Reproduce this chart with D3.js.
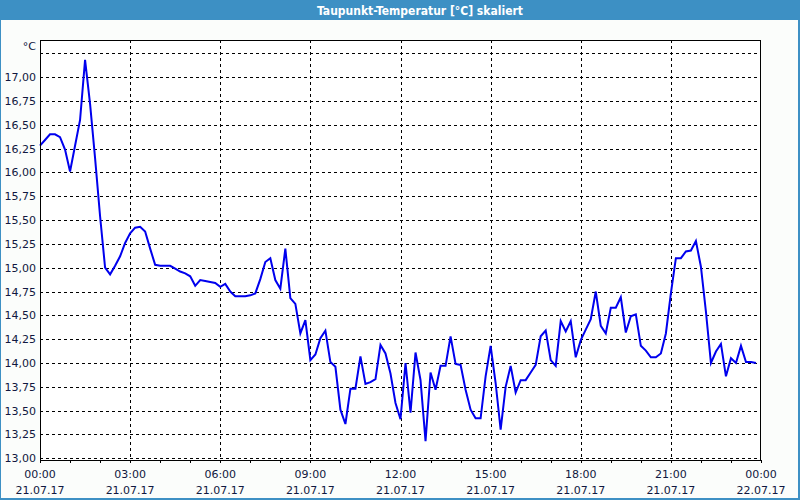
<!DOCTYPE html>
<html><head><meta charset="utf-8">
<script src="https://cdn.jsdelivr.net/npm/d3@7"></script>
<style>body{margin:0;background:#fff;}svg{display:block;}</style>
</head><body>
<svg id="chart" width="800" height="500"></svg>
<script>
const title = "Taupunkt-Temperatur [°C] skaliert";
const unitLabel = "°C";
const times = [
"00:00","00:10","00:20","00:30","00:40","00:50","01:00","01:10","01:20","01:30","01:40","01:50",
"02:00","02:10","02:20","02:30","02:40","02:50","03:00","03:10","03:20","03:30","03:40","03:50",
"04:00","04:10","04:20","04:30","04:40","04:50","05:00","05:10","05:20","05:30","05:40","05:50",
"06:00","06:10","06:20","06:30","06:40","06:50","07:00","07:10","07:20","07:30","07:40","07:50",
"08:00","08:10","08:20","08:30","08:40","08:50","09:00","09:10","09:20","09:30","09:40","09:50",
"10:00","10:10","10:20","10:30","10:40","10:50","11:00","11:10","11:20","11:30","11:40","11:50",
"12:00","12:10","12:20","12:30","12:40","12:50","13:00","13:10","13:20","13:30","13:40","13:50",
"14:00","14:10","14:20","14:30","14:40","14:50","15:00","15:10","15:20","15:30","15:40","15:50",
"16:00","16:10","16:20","16:30","16:40","16:50","17:00","17:10","17:20","17:30","17:40","17:50",
"18:00","18:10","18:20","18:30","18:40","18:50","19:00","19:10","19:20","19:30","19:40","19:50",
"20:00","20:10","20:20","20:30","20:40","20:50","21:00","21:10","21:20","21:30","21:40","21:50",
"22:00","22:10","22:20","22:30","22:40","22:50","23:00","23:10","23:20","23:30","23:40","23:50"];
const values = [
16.28,16.34,16.40,16.40,16.37,16.24,16.01,16.28,16.55,17.18,16.72,16.15,
15.54,15.00,14.93,15.02,15.12,15.26,15.36,15.42,15.43,15.38,15.20,15.03,
15.02,15.02,15.02,14.99,14.96,14.94,14.91,14.81,14.87,14.86,14.85,14.84,
14.80,14.83,14.75,14.70,14.70,14.70,14.71,14.73,14.88,15.06,15.10,14.87,
14.78,15.20,14.68,14.62,14.31,14.45,14.03,14.09,14.26,14.34,14.01,13.96,
13.51,13.36,13.73,13.73,14.07,13.78,13.80,13.83,14.19,14.10,13.89,13.58,
13.41,14.00,13.48,14.11,13.82,13.18,13.90,13.72,13.97,13.97,14.28,13.99,
13.98,13.72,13.51,13.42,13.42,13.86,14.18,13.79,13.30,13.75,13.97,13.69,
13.82,13.82,13.90,13.98,14.28,14.34,14.03,13.97,14.44,14.33,14.44,14.06,
14.24,14.35,14.46,14.75,14.39,14.31,14.58,14.58,14.69,14.32,14.49,14.51,
14.18,14.13,14.06,14.06,14.10,14.31,14.73,15.10,15.10,15.17,15.18,15.28,
15.01,14.54,14.00,14.12,14.20,13.86,14.05,14.00,14.18,14.01,14.01,14.00];
const yTicks = [13.00,13.25,13.50,13.75,14.00,14.25,14.50,14.75,15.00,15.25,15.50,15.75,16.00,16.25,16.50,16.75,17.00];
const yGridTop = 17.25;
const xTickTimes = ["00:00","03:00","06:00","09:00","12:00","15:00","18:00","21:00","00:00"];
const xTickDates = ["21.07.17","21.07.17","21.07.17","21.07.17","21.07.17","21.07.17","21.07.17","21.07.17","22.07.17"];

const toMin = s => { const [h,m] = s.split(":").map(Number); return h*60+m; };
const data = times.map((t,i)=>({m:toMin(t), v:values[i]}));

const svg = d3.select("#chart");
const L=40, R=761, T=40, B=460;
const x = d3.scaleLinear().domain([0,1440]).range([L,R]);
const y = d3.scaleLinear().domain([13,17]).range([458.3,77.1]);
const font = "Tahoma, 'DejaVu Sans', sans-serif";
const frameBlue = "#3d90c4";

// window background and frame
svg.append("rect").attr("x",0).attr("y",0).attr("width",800).attr("height",500).attr("fill","#fbfdfb");
svg.append("rect").attr("x",0).attr("y",0).attr("width",1).attr("height",500).attr("fill",frameBlue);
svg.append("rect").attr("x",798).attr("y",0).attr("width",2).attr("height",500).attr("fill",frameBlue);
svg.append("rect").attr("x",0).attr("y",498).attr("width",800).attr("height",2).attr("fill",frameBlue);
svg.append("rect").attr("x",0).attr("y",0).attr("width",800).attr("height",20).attr("fill",frameBlue);
svg.append("text").attr("x",420).attr("y",14.5).attr("text-anchor","middle")
  .attr("fill","#fff").attr("font-family","'DejaVu Sans Condensed', 'DejaVu Sans', sans-serif").attr("font-weight","bold").attr("font-size",12)
  .text(title);

// plot area
svg.append("rect").attr("x",L).attr("y",T).attr("width",R-L).attr("height",B-T).attr("fill","#ffffff");

const grid = svg.append("g").attr("stroke","#000").attr("stroke-width",1).attr("stroke-dasharray","3,3");
[...yTicks, yGridTop].forEach(v=>{
  const yy = Math.round(y(v))+0.5;
  grid.append("line").attr("x1",L).attr("x2",R).attr("y1",yy).attr("y2",yy);
});
xTickTimes.forEach((t,i)=>{
  if(i===0||i===xTickTimes.length-1) return;
  const xx = Math.round(x(i*180))+0.5;
  grid.append("line").attr("x1",xx).attr("x2",xx).attr("y1",T).attr("y2",B);
});

// line
const line = d3.line().x(d=>x(d.m)).y(d=>y(d.v));
svg.append("path").datum(data).attr("d",line).attr("fill","none")
  .attr("stroke","#0000ee").attr("stroke-width",2).attr("stroke-linejoin","miter");

// frame
svg.append("rect").attr("x",L+0.5).attr("y",T+0.5).attr("width",R-L-1).attr("height",B-T)
  .attr("fill","none").attr("stroke","#000").attr("stroke-width",1);

// x minor ticks
const hourTicks = d3.range(0,1441,60);
svg.append("g").selectAll("line").data(hourTicks).join("line")
  .attr("x1",d=>Math.round(x(d))+0.5).attr("x2",d=>Math.round(x(d))+0.5)
  .attr("y1",B).attr("y2",B+3).attr("stroke","#000");

// y labels
const lab = svg.append("g").attr("font-family",font).attr("font-size",11).attr("fill","#101840");
yTicks.forEach(v=>{
  lab.append("text").attr("x",36).attr("y",y(v)+4).attr("text-anchor","end")
    .text(d3.format(".2f")(v).replace(".",","));
});
lab.append("text").attr("x",36).attr("y",y(yGridTop)-3).attr("text-anchor","end").text(unitLabel);

// x labels
xTickTimes.forEach((t,i)=>{
  const xx = x(i*180);
  lab.append("text").attr("x",xx).attr("y",478).attr("text-anchor","middle").text(t);
  lab.append("text").attr("x",xx).attr("y",494).attr("text-anchor","middle").text(xTickDates[i]);
});
</script>
</body></html>
